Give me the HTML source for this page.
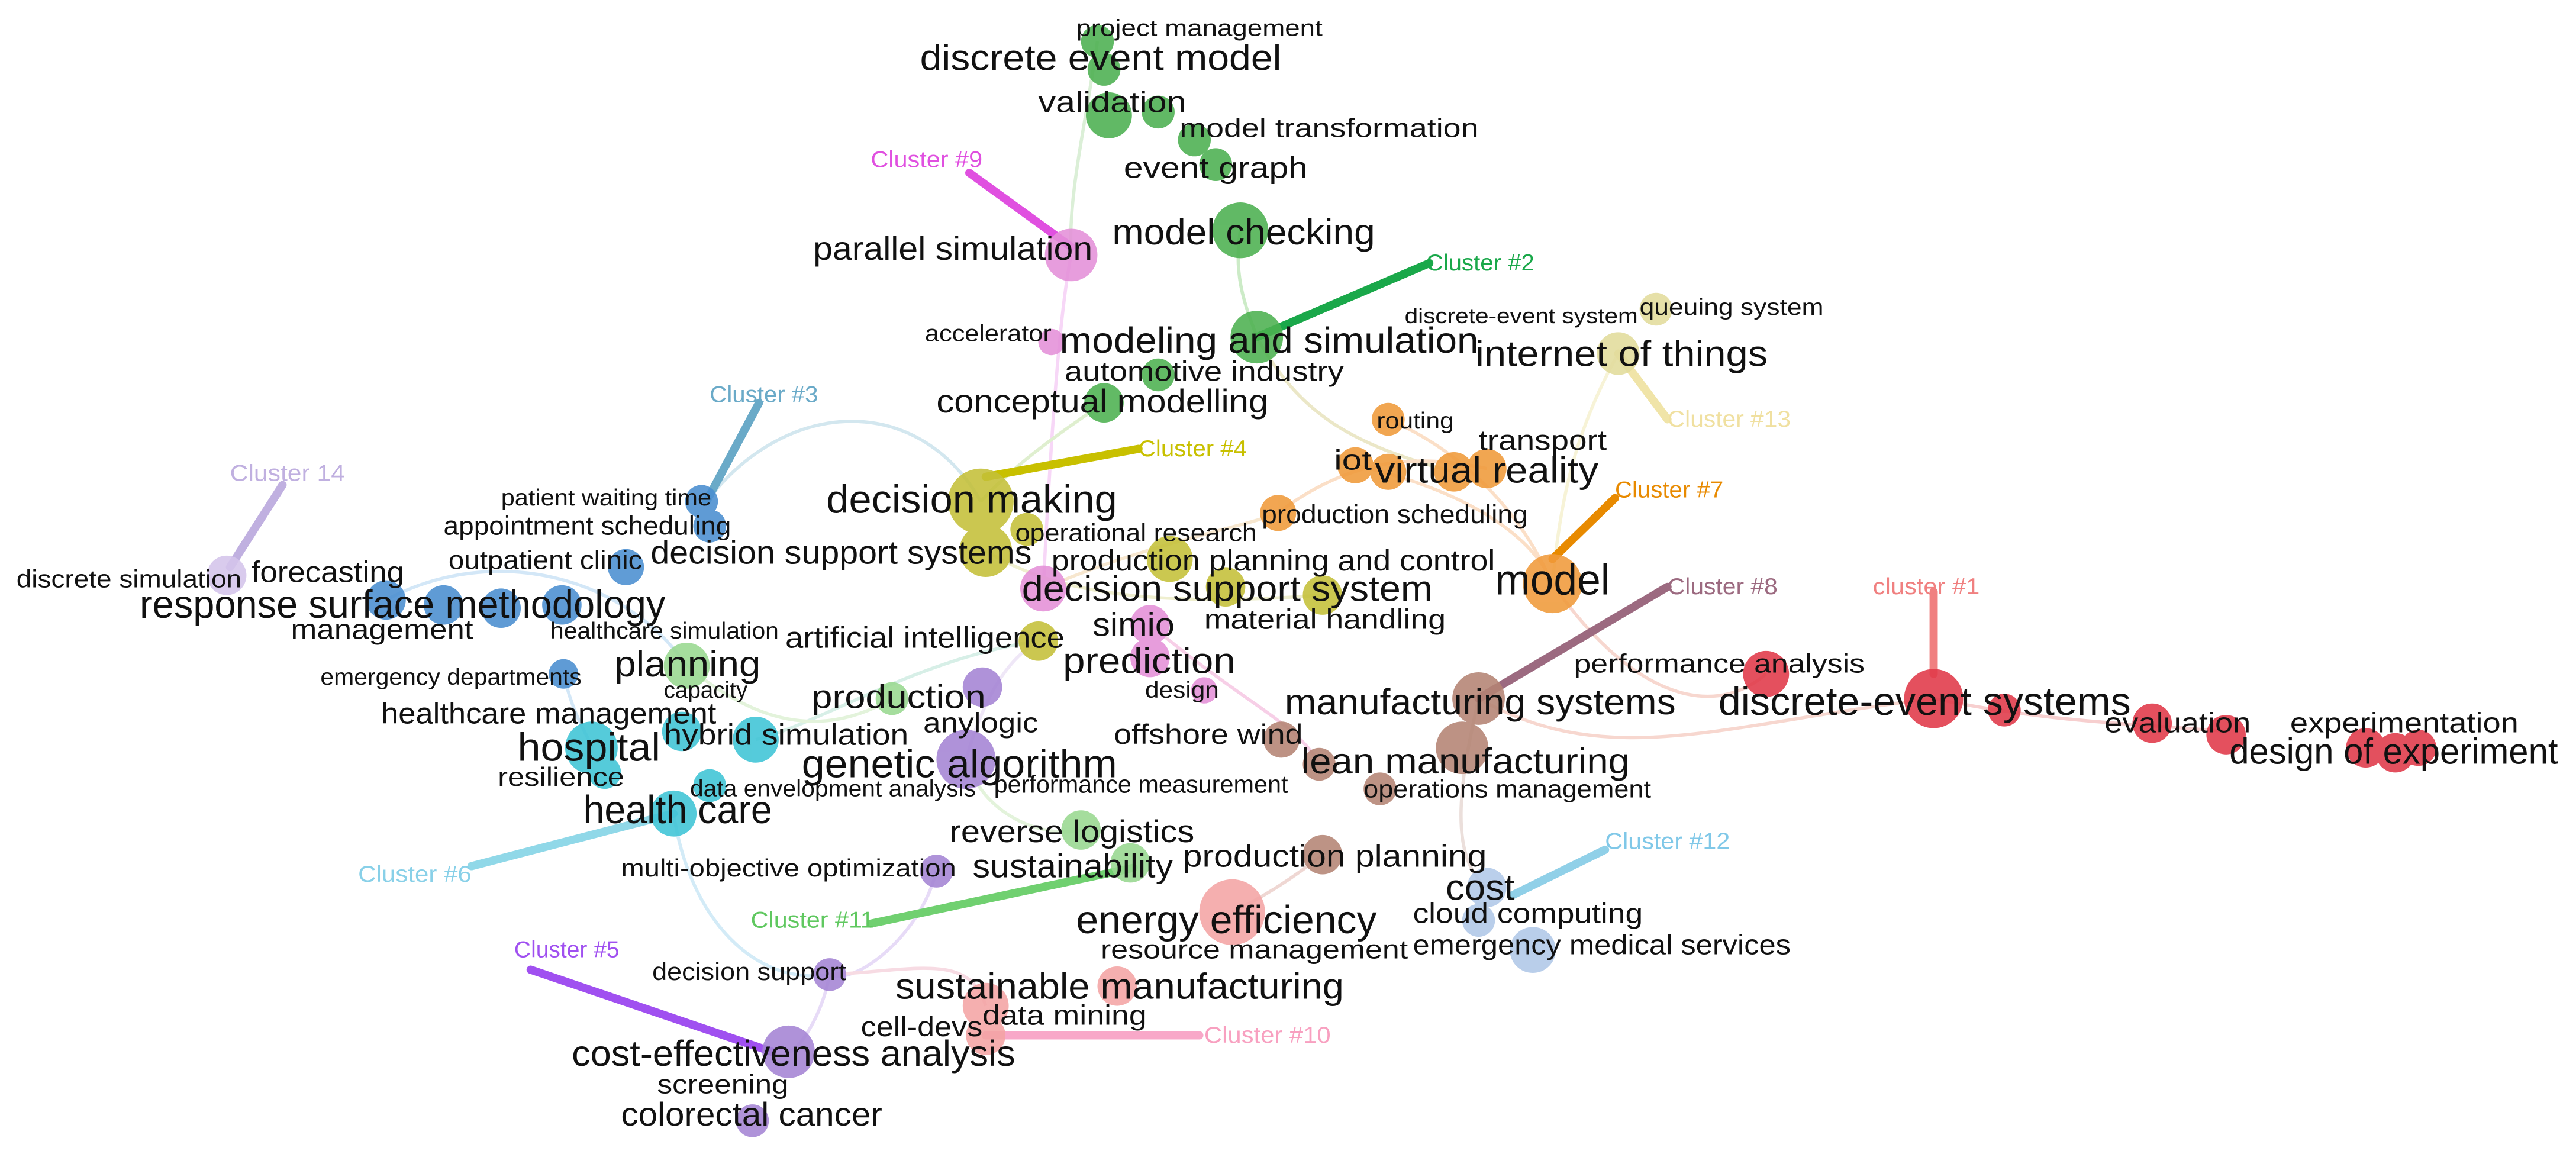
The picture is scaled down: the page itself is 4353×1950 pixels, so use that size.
<!DOCTYPE html>
<html><head><meta charset="utf-8"><style>
html,body{margin:0;padding:0;background:#fff;width:4353px;height:1950px;overflow:hidden}
svg{display:block}
text{font-family:"Liberation Sans",sans-serif;fill:#111}
.c{font-size:14px}
</style></head><body>
<svg width="4353" height="1950" viewBox="0 0 1568 702" xmlns="http://www.w3.org/2000/svg">
<g fill="none" stroke-width="2" opacity="0.5">
<path d="M668,25 C660,80 650,120 652,155" stroke="#b8e0b0"/>
<path d="M652,155 C645,190 640,260 635,358" stroke="#f0b0f0"/>
<path d="M755,140 C750,170 760,190 765,205" stroke="#9ad890"/>
<path d="M765,205 C790,250 820,270 885,287" stroke="#d8d090"/>
<path d="M597,305 C560,240 480,240 430,305" stroke="#a8d0e0"/>
<path d="M597,305 C620,280 650,260 672,245" stroke="#c0e0a0"/>
<path d="M825,283 C900,300 935,330 945,355" stroke="#f8c090"/>
<path d="M778,312 C820,280 860,275 905,285" stroke="#f8c090"/>
<path d="M845,255 C880,270 920,300 945,355" stroke="#f8c090"/>
<path d="M985,215 C960,260 950,300 945,355" stroke="#f0e8b0"/>
<path d="M945,355 C990,420 1040,440 1075,410" stroke="#f0b0a0"/>
<path d="M900,425 C980,470 1050,440 1177,425" stroke="#f0b0a0"/>
<path d="M1177,425 C1250,440 1300,440 1355,445" stroke="#f0a0a0"/>
<path d="M700,380 C760,430 790,440 803,465" stroke="#f0a0d0"/>
<path d="M900,425 C890,470 880,520 905,540" stroke="#d8c0b8"/>
<path d="M805,520 C780,540 760,550 750,555" stroke="#e0b0a8"/>
<path d="M632,390 C560,400 500,440 460,450" stroke="#b0e0d0"/>
<path d="M418,405 C460,440 500,450 543,425" stroke="#c8e8b8"/>
<path d="M410,495 C420,560 460,600 505,593" stroke="#a8d8f0"/>
<path d="M570,530 C560,570 520,600 505,593" stroke="#d0b8f0"/>
<path d="M505,593 C500,620 485,640 480,640" stroke="#d0b8f0"/>
<path d="M600,612 C590,580 560,590 505,593" stroke="#f0b8c8"/>
<path d="M235,365 C300,330 380,350 418,405" stroke="#a8d0f0"/>
<path d="M343,410 C350,440 360,450 360,455" stroke="#a8d0f0"/>
<path d="M588,462 C600,500 640,510 658,505" stroke="#c8e8b8"/>
<path d="M635,358 C700,330 760,320 778,312" stroke="#f0d0a0"/>
<path d="M600,335 C640,360 700,370 805,362" stroke="#e0e0a0"/>
<path d="M588,462 C600,420 615,400 632,390" stroke="#e0d0f0"/>
</g>
<g stroke-width="5" stroke-linecap="round">
<line x1="765" y1="205" x2="870" y2="160" stroke="#1aa84a"/>
<line x1="590" y1="105" x2="652" y2="150" stroke="#e050e0"/>
<line x1="462" y1="245" x2="430" y2="305" stroke="#6aaac8"/>
<line x1="600" y1="290" x2="693" y2="273" stroke="#c8c000"/>
<line x1="945" y1="340" x2="983" y2="303" stroke="#e88a00"/>
<line x1="985" y1="215" x2="1015" y2="255" stroke="#f0e4a8"/>
<line x1="900" y1="425" x2="1015" y2="357" stroke="#9c6a80"/>
<line x1="1177" y1="360" x2="1177" y2="410" stroke="#f08080"/>
<line x1="920" y1="545" x2="977" y2="517" stroke="#90d0e8"/>
<line x1="600" y1="630" x2="730" y2="630" stroke="#f8a8c8"/>
<line x1="530" y1="562" x2="690" y2="528" stroke="#70d070"/>
<line x1="287" y1="527" x2="410" y2="495" stroke="#90d8e8"/>
<line x1="323" y1="590" x2="470" y2="640" stroke="#a050f0"/>
<line x1="172" y1="295" x2="140" y2="345" stroke="#c0b0e0"/>
</g>
<g opacity="0.88">
<g fill="#4cb050"><circle cx="668" cy="25" r="10"/><circle cx="672" cy="42" r="10"/><circle cx="675" cy="70" r="14"/><circle cx="705" cy="68" r="10"/><circle cx="727" cy="85" r="10"/><circle cx="740" cy="100" r="10"/><circle cx="755" cy="140" r="17"/><circle cx="765" cy="205" r="16"/><circle cx="705" cy="228" r="10"/><circle cx="672" cy="245" r="12"/></g>
<g fill="#e490d8"><circle cx="652" cy="155" r="16"/><circle cx="640" cy="208" r="8"/><circle cx="635" cy="358" r="14"/><circle cx="700" cy="380" r="12"/><circle cx="700" cy="400" r="12"/><circle cx="733" cy="420" r="8"/></g>
<g fill="#c4c038"><circle cx="597" cy="305" r="20"/><circle cx="600" cy="335" r="16"/><circle cx="625" cy="322" r="10"/><circle cx="712" cy="340" r="14"/><circle cx="746" cy="357" r="12"/><circle cx="805" cy="362" r="12"/><circle cx="632" cy="390" r="12"/></g>
<g fill="#f09a3a"><circle cx="845" cy="255" r="10"/><circle cx="825" cy="283" r="11"/><circle cx="845" cy="287" r="11"/><circle cx="885" cy="287" r="12"/><circle cx="905" cy="285" r="12"/><circle cx="778" cy="312" r="11"/><circle cx="945" cy="355" r="18"/></g>
<g fill="#e2dc9c"><circle cx="1008" cy="188" r="10"/><circle cx="985" cy="215" r="13"/></g>
<g fill="#b48474"><circle cx="900" cy="425" r="16"/><circle cx="780" cy="450" r="11"/><circle cx="803" cy="465" r="10"/><circle cx="890" cy="455" r="16"/><circle cx="840" cy="480" r="10"/><circle cx="805" cy="520" r="12"/></g>
<g fill="#e03848"><circle cx="1075" cy="410" r="14"/><circle cx="1177" cy="425" r="18"/><circle cx="1220" cy="432" r="10"/><circle cx="1310" cy="440" r="12"/><circle cx="1355" cy="447" r="12"/><circle cx="1440" cy="455" r="12"/><circle cx="1458" cy="458" r="12"/><circle cx="1472" cy="455" r="11"/></g>
<g fill="#b0c8e8"><circle cx="905" cy="540" r="12"/><circle cx="900" cy="560" r="10"/><circle cx="933" cy="578" r="14"/></g>
<g fill="#f4a4a4"><circle cx="750" cy="555" r="20"/><circle cx="680" cy="600" r="12"/><circle cx="600" cy="612" r="14"/><circle cx="600" cy="630" r="12"/></g>
<g fill="#a484d4"><circle cx="588" cy="462" r="18"/><circle cx="598" cy="418" r="12"/><circle cx="570" cy="530" r="10"/><circle cx="505" cy="593" r="10"/><circle cx="480" cy="640" r="16"/><circle cx="458" cy="682" r="10"/></g>
<g fill="#98d890"><circle cx="418" cy="405" r="14"/><circle cx="543" cy="425" r="10"/><circle cx="658" cy="505" r="12"/><circle cx="688" cy="525" r="12"/></g>
<g fill="#3ec4d6"><circle cx="460" cy="450" r="14"/><circle cx="360" cy="455" r="16"/><circle cx="415" cy="445" r="12"/><circle cx="368" cy="470" r="10"/><circle cx="410" cy="495" r="14"/><circle cx="432" cy="478" r="10"/></g>
<g fill="#4a8ed0"><circle cx="427" cy="305" r="10"/><circle cx="432" cy="320" r="10"/><circle cx="381" cy="345" r="11"/><circle cx="235" cy="365" r="12"/><circle cx="270" cy="368" r="12"/><circle cx="305" cy="370" r="12"/><circle cx="342" cy="368" r="12"/><circle cx="343" cy="410" r="9"/></g>
<g fill="#d4c4ea"><circle cx="138" cy="350" r="12"/></g>
</g>
<g dominant-baseline="central" lengthAdjust="spacingAndGlyphs">
<text x="655" y="17" font-size="14" textLength="150" lengthAdjust="spacingAndGlyphs">project management</text>
<text x="560" y="35" font-size="22" textLength="220" lengthAdjust="spacingAndGlyphs">discrete event model</text>
<text x="632" y="62" font-size="18" textLength="90" lengthAdjust="spacingAndGlyphs">validation</text>
<text x="718" y="78" font-size="16" textLength="182" lengthAdjust="spacingAndGlyphs">model transformation</text>
<text x="684" y="102" font-size="18" textLength="112" lengthAdjust="spacingAndGlyphs">event graph</text>
<text x="677" y="141" font-size="22" textLength="160" lengthAdjust="spacingAndGlyphs">model checking</text>
<text x="645" y="207" font-size="22" textLength="255" lengthAdjust="spacingAndGlyphs">modeling and simulation</text>
<text x="648" y="226" font-size="17" textLength="170" lengthAdjust="spacingAndGlyphs">automotive industry</text>
<text x="570" y="244" font-size="20" textLength="202" lengthAdjust="spacingAndGlyphs">conceptual modelling</text>
<text x="495" y="151" font-size="20" textLength="170" lengthAdjust="spacingAndGlyphs">parallel simulation</text>
<text x="563" y="203" font-size="14" textLength="77" lengthAdjust="spacingAndGlyphs">accelerator</text>
<text x="622" y="358" font-size="22" textLength="250" lengthAdjust="spacingAndGlyphs">decision support system</text>
<text x="665" y="380" font-size="20" textLength="50" lengthAdjust="spacingAndGlyphs">simio</text>
<text x="647" y="402" font-size="22" textLength="105" lengthAdjust="spacingAndGlyphs">prediction</text>
<text x="697" y="420" font-size="14" textLength="45" lengthAdjust="spacingAndGlyphs">design</text>
<text x="503" y="304" font-size="24" textLength="177" lengthAdjust="spacingAndGlyphs">decision making</text>
<text x="396" y="336" font-size="20" textLength="232" lengthAdjust="spacingAndGlyphs">decision support systems</text>
<text x="618" y="324" font-size="15" textLength="147" lengthAdjust="spacingAndGlyphs">operational research</text>
<text x="640" y="341" font-size="18" textLength="270" lengthAdjust="spacingAndGlyphs">production planning and control</text>
<text x="733" y="377" font-size="17" textLength="147" lengthAdjust="spacingAndGlyphs">material handling</text>
<text x="478" y="388" font-size="18" textLength="170" lengthAdjust="spacingAndGlyphs">artificial intelligence</text>
<text x="838" y="256" font-size="14" textLength="47" lengthAdjust="spacingAndGlyphs">routing</text>
<text x="812" y="280" font-size="17" textLength="23" lengthAdjust="spacingAndGlyphs">iot</text>
<text x="837" y="286" font-size="22" textLength="136" lengthAdjust="spacingAndGlyphs">virtual reality</text>
<text x="900" y="268" font-size="17" textLength="78" lengthAdjust="spacingAndGlyphs">transport</text>
<text x="768" y="313" font-size="16" textLength="162" lengthAdjust="spacingAndGlyphs">production scheduling</text>
<text x="910" y="353" font-size="26" textLength="70" lengthAdjust="spacingAndGlyphs">model</text>
<text x="998" y="187" font-size="14" textLength="112" lengthAdjust="spacingAndGlyphs">queuing system</text>
<text x="855" y="192" font-size="13" textLength="142" lengthAdjust="spacingAndGlyphs">discrete-event system</text>
<text x="898" y="215" font-size="22" textLength="178" lengthAdjust="spacingAndGlyphs">internet of things</text>
<text x="782" y="427" font-size="22" textLength="238" lengthAdjust="spacingAndGlyphs">manufacturing systems</text>
<text x="678" y="447" font-size="17" textLength="115" lengthAdjust="spacingAndGlyphs">offshore wind</text>
<text x="792" y="463" font-size="22" textLength="200" lengthAdjust="spacingAndGlyphs">lean manufacturing</text>
<text x="830" y="480" font-size="15" textLength="175" lengthAdjust="spacingAndGlyphs">operations management</text>
<text x="720" y="521" font-size="19" textLength="185" lengthAdjust="spacingAndGlyphs">production planning</text>
<text x="958" y="404" font-size="16" textLength="177" lengthAdjust="spacingAndGlyphs">performance analysis</text>
<text x="1046" y="427" font-size="24" textLength="251" lengthAdjust="spacingAndGlyphs">discrete-event systems</text>
<text x="1281" y="440" font-size="17" textLength="89" lengthAdjust="spacingAndGlyphs">evaluation</text>
<text x="1394" y="440" font-size="17" textLength="139" lengthAdjust="spacingAndGlyphs">experimentation</text>
<text x="1357" y="457" font-size="22" textLength="200" lengthAdjust="spacingAndGlyphs">design of experiment</text>
<text x="880" y="540" font-size="22" textLength="42" lengthAdjust="spacingAndGlyphs">cost</text>
<text x="860" y="556" font-size="17" textLength="140" lengthAdjust="spacingAndGlyphs">cloud computing</text>
<text x="860" y="575" font-size="17" textLength="230" lengthAdjust="spacingAndGlyphs">emergency medical services</text>
<text x="655" y="560" font-size="24" textLength="183" lengthAdjust="spacingAndGlyphs">energy efficiency</text>
<text x="670" y="578" font-size="16" textLength="187" lengthAdjust="spacingAndGlyphs">resource management</text>
<text x="545" y="600" font-size="22" textLength="273" lengthAdjust="spacingAndGlyphs">sustainable manufacturing</text>
<text x="598" y="618" font-size="17" textLength="100" lengthAdjust="spacingAndGlyphs">data mining</text>
<text x="524" y="625" font-size="17" textLength="74" lengthAdjust="spacingAndGlyphs">cell-devs</text>
<text x="488" y="465" font-size="24" textLength="192" lengthAdjust="spacingAndGlyphs">genetic algorithm</text>
<text x="562" y="440" font-size="17" textLength="70" lengthAdjust="spacingAndGlyphs">anylogic</text>
<text x="494" y="424" font-size="20" textLength="106" lengthAdjust="spacingAndGlyphs">production</text>
<text x="378" y="528" font-size="15" textLength="204" lengthAdjust="spacingAndGlyphs">multi-objective optimization</text>
<text x="397" y="591" font-size="15" textLength="118" lengthAdjust="spacingAndGlyphs">decision support</text>
<text x="348" y="641" font-size="22" textLength="270" lengthAdjust="spacingAndGlyphs">cost-effectiveness analysis</text>
<text x="400" y="660" font-size="16" textLength="80" lengthAdjust="spacingAndGlyphs">screening</text>
<text x="378" y="678" font-size="20" textLength="159" lengthAdjust="spacingAndGlyphs">colorectal cancer</text>
<text x="374" y="404" font-size="22" textLength="89" lengthAdjust="spacingAndGlyphs">planning</text>
<text x="404" y="420" font-size="14" textLength="51" lengthAdjust="spacingAndGlyphs">capacity</text>
<text x="578" y="506" font-size="19" textLength="149" lengthAdjust="spacingAndGlyphs">reverse logistics</text>
<text x="592" y="527" font-size="20" textLength="122" lengthAdjust="spacingAndGlyphs">sustainability</text>
<text x="605" y="477" font-size="15" textLength="179" lengthAdjust="spacingAndGlyphs">performance measurement</text>
<text x="404" y="447" font-size="18" textLength="149" lengthAdjust="spacingAndGlyphs">hybrid simulation</text>
<text x="315" y="455" font-size="24" textLength="87" lengthAdjust="spacingAndGlyphs">hospital</text>
<text x="303" y="473" font-size="16" textLength="77" lengthAdjust="spacingAndGlyphs">resilience</text>
<text x="355" y="493" font-size="24" textLength="115" lengthAdjust="spacingAndGlyphs">health care</text>
<text x="420" y="480" font-size="14" textLength="174" lengthAdjust="spacingAndGlyphs">data envelopment analysis</text>
<text x="232" y="434" font-size="18" textLength="204" lengthAdjust="spacingAndGlyphs">healthcare management</text>
<text x="305" y="303" font-size="14" textLength="128" lengthAdjust="spacingAndGlyphs">patient waiting time</text>
<text x="270" y="320" font-size="16" textLength="175" lengthAdjust="spacingAndGlyphs">appointment scheduling</text>
<text x="273" y="341" font-size="16" textLength="118" lengthAdjust="spacingAndGlyphs">outpatient clinic</text>
<text x="85" y="368" font-size="24" textLength="320" lengthAdjust="spacingAndGlyphs">response surface methodology</text>
<text x="153" y="348" font-size="18" textLength="93" lengthAdjust="spacingAndGlyphs">forecasting</text>
<text x="177" y="383" font-size="17" textLength="111" lengthAdjust="spacingAndGlyphs">management</text>
<text x="335" y="384" font-size="14" textLength="139" lengthAdjust="spacingAndGlyphs">healthcare simulation</text>
<text x="195" y="412" font-size="14" textLength="159" lengthAdjust="spacingAndGlyphs">emergency departments</text>
<text x="10" y="352" font-size="15" textLength="137" lengthAdjust="spacingAndGlyphs">discrete simulation</text>
<text x="868" y="160" font-size="14" textLength="66" lengthAdjust="spacingAndGlyphs" style="fill:#1aa84a">Cluster #2</text>
<text x="530" y="97" font-size="14" textLength="68" lengthAdjust="spacingAndGlyphs" style="fill:#e050e0">Cluster #9</text>
<text x="432" y="240" font-size="14" textLength="66" lengthAdjust="spacingAndGlyphs" style="fill:#6aaac8">Cluster #3</text>
<text x="693" y="273" font-size="14" textLength="66" lengthAdjust="spacingAndGlyphs" style="fill:#c8c000">Cluster #4</text>
<text x="983" y="298" font-size="14" textLength="66" lengthAdjust="spacingAndGlyphs" style="fill:#e88a00">Cluster #7</text>
<text x="1015" y="255" font-size="14" textLength="75" lengthAdjust="spacingAndGlyphs" style="fill:#f0e0a0">Cluster #13</text>
<text x="1015" y="357" font-size="14" textLength="67" lengthAdjust="spacingAndGlyphs" style="fill:#9c6a80">Cluster #8</text>
<text x="1140" y="357" font-size="14" textLength="65" lengthAdjust="spacingAndGlyphs" style="fill:#f08080">cluster #1</text>
<text x="977" y="512" font-size="14" textLength="76" lengthAdjust="spacingAndGlyphs" style="fill:#80c8e8">Cluster #12</text>
<text x="733" y="630" font-size="14" textLength="77" lengthAdjust="spacingAndGlyphs" style="fill:#f8a0c0">Cluster #10</text>
<text x="457" y="560" font-size="14" textLength="75" lengthAdjust="spacingAndGlyphs" style="fill:#60c860">Cluster #11</text>
<text x="218" y="532" font-size="14" textLength="69" lengthAdjust="spacingAndGlyphs" style="fill:#88d0e8">Cluster #6</text>
<text x="313" y="578" font-size="14" textLength="64" lengthAdjust="spacingAndGlyphs" style="fill:#a050f0">Cluster #5</text>
<text x="140" y="288" font-size="14" textLength="70" lengthAdjust="spacingAndGlyphs" style="fill:#c0b0e0">Cluster 14</text>
</g>
</svg>
</body></html>
